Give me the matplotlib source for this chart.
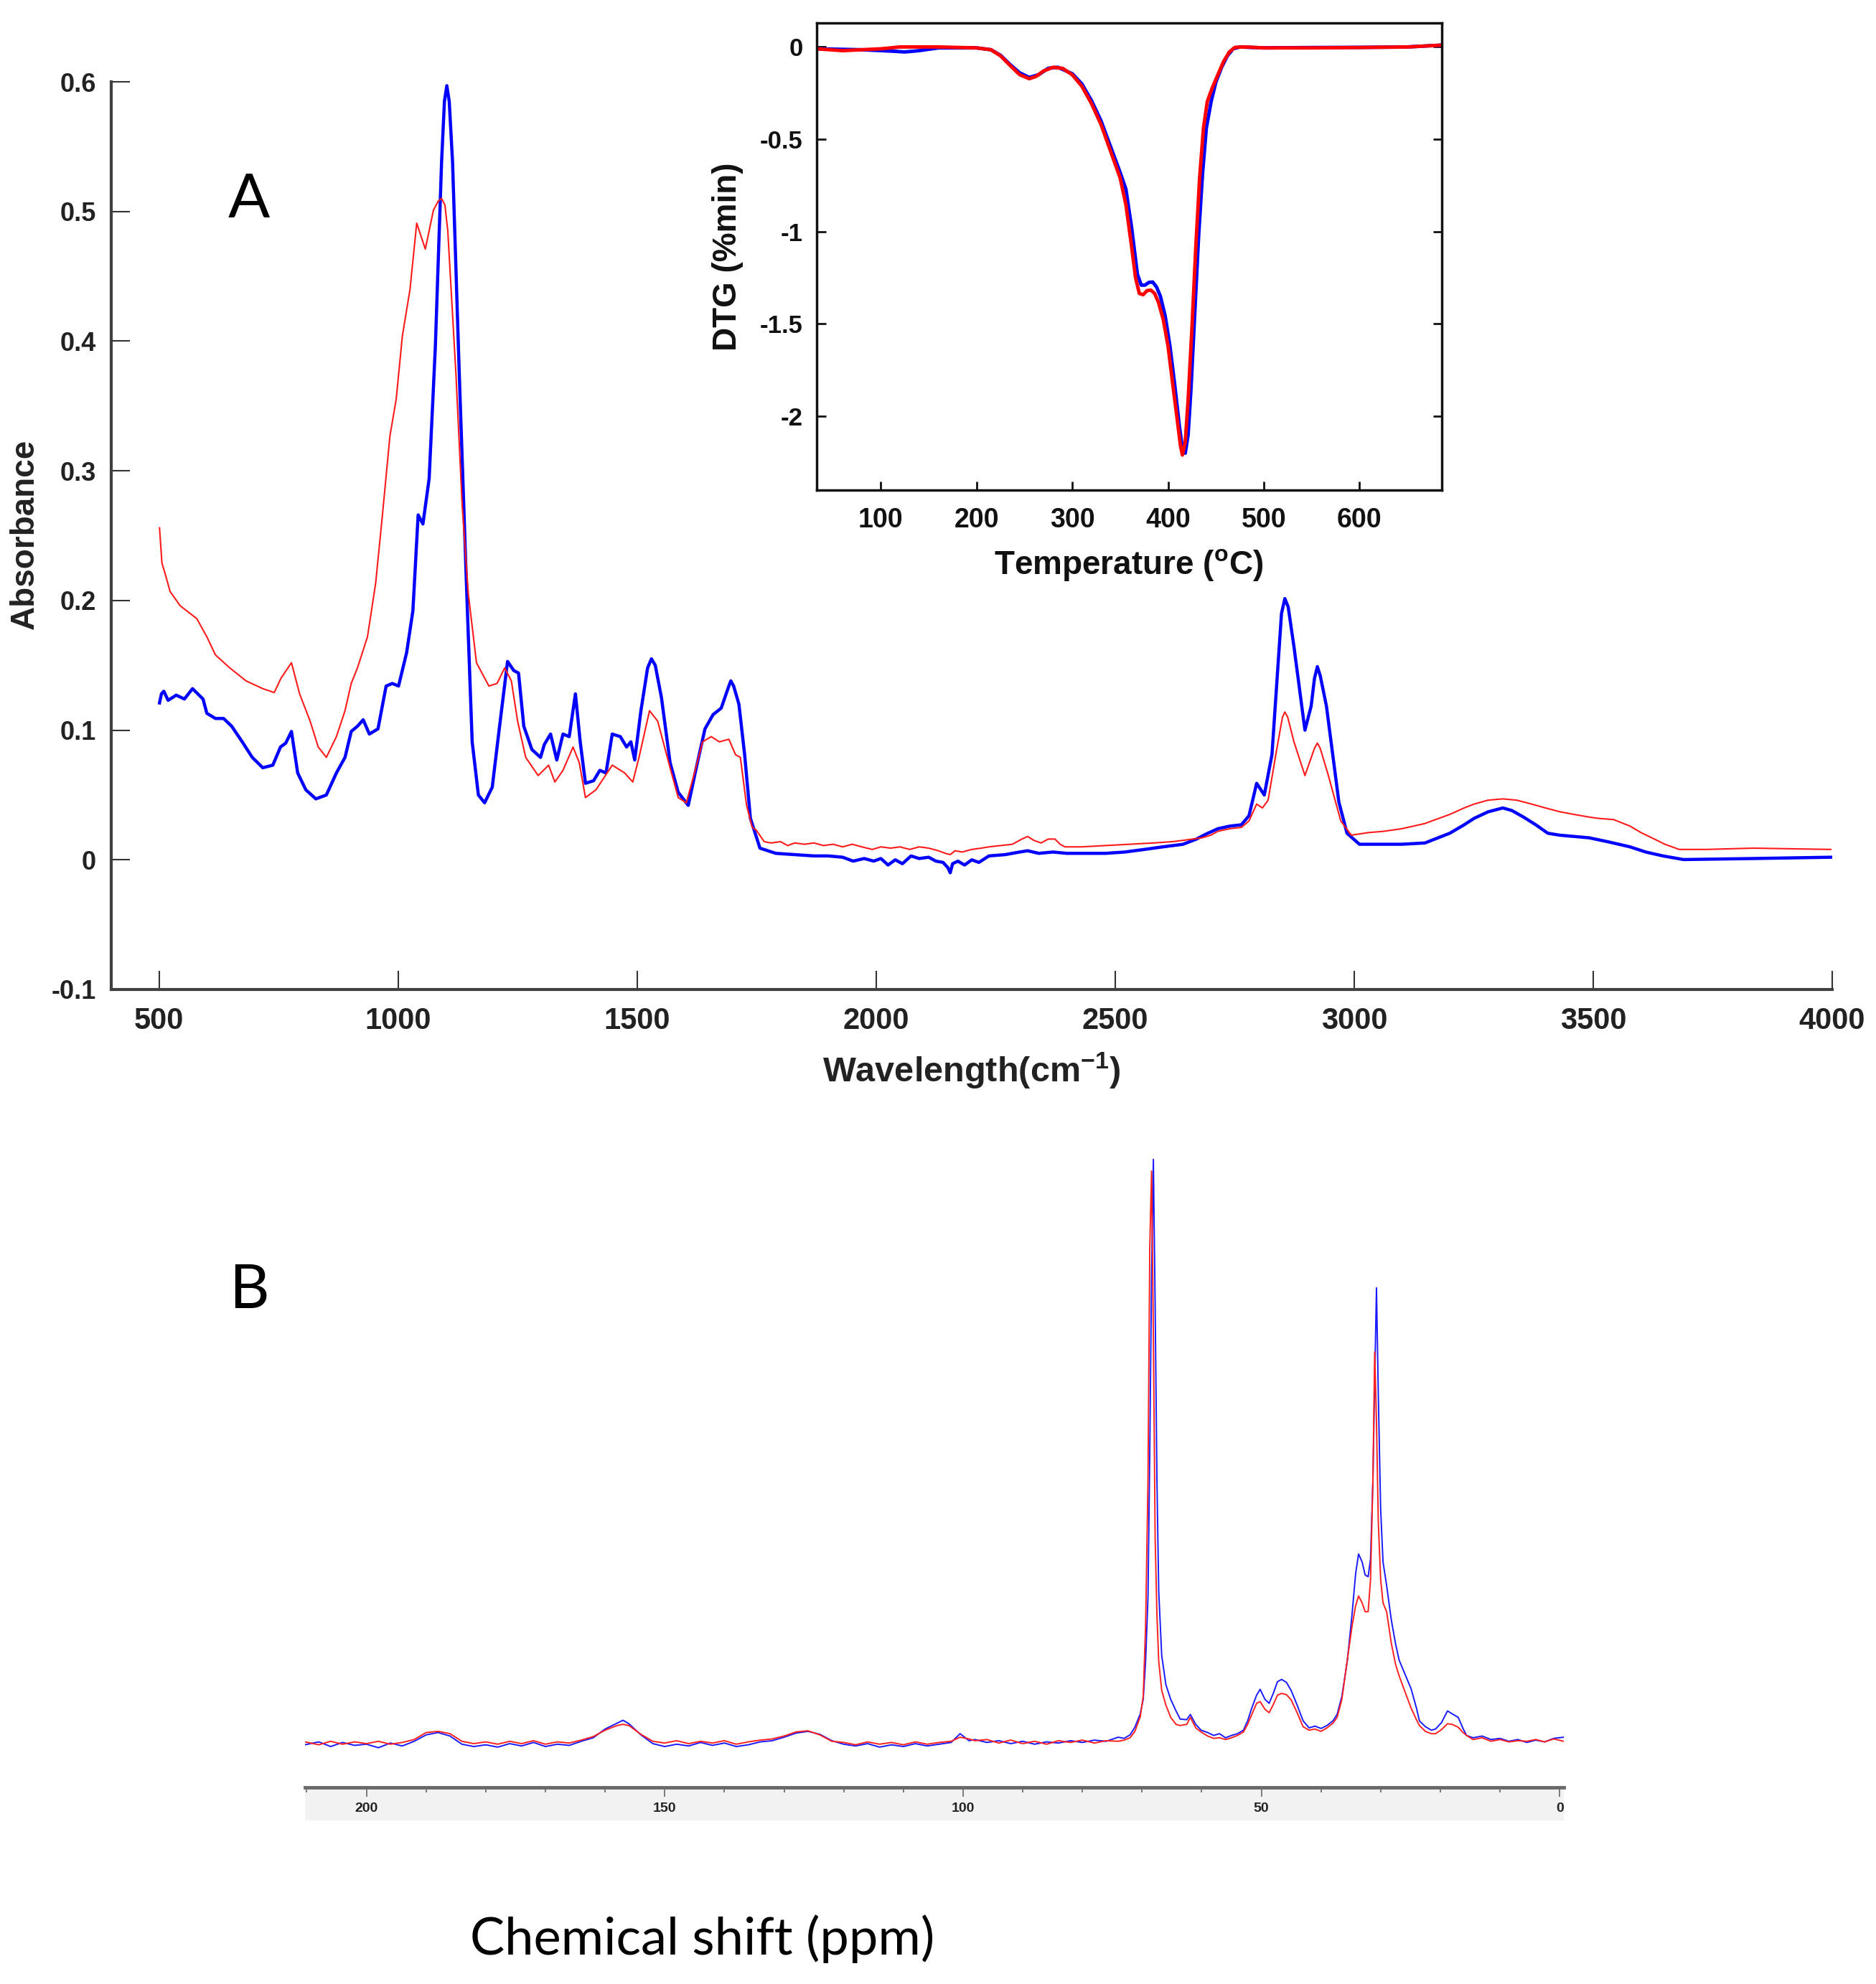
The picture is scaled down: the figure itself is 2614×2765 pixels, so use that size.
import matplotlib
matplotlib.use('Agg')
import matplotlib.pyplot as plt
from matplotlib.ticker import MultipleLocator

plt.rcParams['font.family'] = ['Liberation Sans', 'DejaVu Sans']
plt.rcParams['mathtext.fontset'] = 'custom'
plt.rcParams['mathtext.rm'] = 'Liberation Sans:bold'
plt.rcParams['mathtext.it'] = 'Liberation Sans:bold'
plt.rcParams['mathtext.default'] = 'rm'

# ---- FTIR (panel A) ----
ftir_wn_blue = [501, 505, 510, 519, 536, 553, 570, 592, 600, 618, 635, 652, 674, 695, 717, 738, 754, 765, 777,
                790, 807, 828, 850, 871, 889, 902, 915, 927, 940, 958, 975, 988, 1001, 1018, 1031, 1042, 1052,
                1065, 1078, 1091, 1097, 1102, 1107, 1114, 1128, 1143, 1155, 1168, 1181, 1197, 1211, 1229, 1242,
                1252, 1263, 1280, 1298, 1306, 1319, 1332, 1345, 1358, 1371, 1381, 1392, 1409, 1422, 1435, 1448,
                1465, 1478, 1487, 1495, 1508, 1522, 1530, 1538, 1551, 1569, 1586, 1607, 1625, 1642, 1659, 1676,
                1690, 1696, 1702, 1713, 1725, 1737, 1757, 1790, 1830, 1870, 1900, 1930, 1952, 1975, 1995, 2010,
                2025, 2040, 2055, 2073, 2090, 2110, 2125, 2140, 2150, 2155, 2160, 2171, 2185, 2200, 2215, 2236,
                2270, 2300, 2317, 2340, 2370, 2399, 2440, 2480, 2520, 2561, 2600, 2642, 2670, 2691, 2715, 2740,
                2764, 2780, 2796, 2812, 2828, 2848, 2855, 2862, 2874, 2897, 2910, 2917, 2923, 2929, 2942, 2968,
                2985, 3011, 3030, 3100, 3148, 3200, 3230, 3251, 3280, 3311, 3330, 3354, 3380, 3405, 3430, 3491,
                3530, 3577, 3610, 3646, 3689, 3835, 3997]
ftir_abs_blue = [0.121, 0.128, 0.130, 0.123, 0.127, 0.124, 0.132, 0.124, 0.113, 0.109, 0.109, 0.103, 0.091, 0.079,
                 0.071, 0.073, 0.087, 0.090, 0.099, 0.067, 0.054, 0.047, 0.050, 0.067, 0.079, 0.099, 0.103, 0.108,
                 0.097, 0.101, 0.134, 0.136, 0.134, 0.160, 0.192, 0.266, 0.259, 0.294, 0.396, 0.538, 0.585, 0.597,
                 0.585, 0.538, 0.375, 0.213, 0.091, 0.050, 0.044, 0.056, 0.099, 0.153, 0.146, 0.144, 0.103, 0.085,
                 0.079, 0.089, 0.097, 0.077, 0.097, 0.095, 0.128, 0.091, 0.059, 0.061, 0.069, 0.067, 0.097, 0.095,
                 0.087, 0.091, 0.077, 0.115, 0.148, 0.155, 0.150, 0.125, 0.075, 0.052, 0.042, 0.073, 0.101, 0.112,
                 0.117, 0.132, 0.138, 0.134, 0.120, 0.081, 0.032, 0.009, 0.005, 0.004, 0.003, 0.003, 0.002, -0.001,
                 0.001, -0.001, 0.001, -0.004, 0.000, -0.003, 0.003, 0.001, 0.002, -0.001, -0.002, -0.006, -0.010,
                 -0.003, -0.001, -0.004, 0.000, -0.002, 0.003, 0.004, 0.006, 0.007, 0.005, 0.006, 0.005, 0.005,
                 0.005, 0.006, 0.008, 0.010, 0.012, 0.016, 0.020, 0.024, 0.026, 0.027, 0.034, 0.059, 0.050, 0.081,
                 0.190, 0.2015, 0.195, 0.1645, 0.100, 0.1185, 0.140, 0.149, 0.142, 0.1185, 0.0445, 0.0205, 0.012,
                 0.012, 0.012, 0.013, 0.0205, 0.027, 0.032, 0.037, 0.040, 0.038, 0.033, 0.027, 0.0205, 0.019, 0.017,
                 0.014, 0.010, 0.006, 0.003, 0.0002, 0.001, 0.002]

ftir_wn_red = [501, 506, 514, 523, 544, 579, 600, 618, 648, 682, 717, 741, 755, 777, 794, 816, 833, 850, 871, 889,
               902, 915, 936, 953, 966, 983, 996, 1009, 1025, 1039, 1057, 1074, 1084, 1091, 1098, 1104, 1121, 1134,
               1147, 1164, 1190, 1207, 1223, 1237, 1250, 1267, 1293, 1315, 1328, 1345, 1366, 1379, 1392, 1414,
               1448, 1474, 1491, 1504, 1526, 1543, 1569, 1586, 1603, 1620, 1637, 1655, 1672, 1692, 1706, 1716,
               1729, 1741, 1749, 1766, 1780, 1800, 1815, 1830, 1850, 1870, 1890, 1910, 1930, 1950, 1970, 1992,
               2010, 2030, 2050, 2070, 2090, 2110, 2130, 2145, 2155, 2165, 2180, 2200, 2220, 2236, 2260, 2285,
               2305, 2317, 2330, 2345, 2360, 2374, 2385, 2395, 2430, 2480, 2530, 2580, 2620, 2642, 2682, 2700,
               2715, 2740, 2764, 2780, 2796, 2808, 2820, 2836, 2850, 2855, 2861, 2874, 2897, 2917, 2923, 2929,
               2946, 2972, 2994, 3030, 3062, 3100, 3148, 3170, 3200, 3230, 3251, 3280, 3311, 3340, 3371, 3400,
               3431, 3460, 3491, 3510, 3543, 3577, 3600, 3628, 3650, 3680, 3736, 3835, 3997]
ftir_abs_red = [0.256, 0.229, 0.219, 0.207, 0.196, 0.186, 0.172, 0.158, 0.148, 0.138, 0.132, 0.129, 0.140, 0.152,
                0.128, 0.107, 0.087, 0.079, 0.095, 0.115, 0.136, 0.148, 0.172, 0.213, 0.261, 0.327, 0.355, 0.404,
                0.440, 0.491, 0.471, 0.501, 0.508, 0.510, 0.505, 0.485, 0.375, 0.274, 0.205, 0.152, 0.134, 0.136,
                0.148, 0.138, 0.107, 0.079, 0.065, 0.073, 0.060, 0.069, 0.087, 0.075, 0.048, 0.054, 0.073, 0.067,
                0.060, 0.079, 0.115, 0.107, 0.071, 0.048, 0.044, 0.067, 0.091, 0.095, 0.091, 0.093, 0.081, 0.079,
                0.042, 0.025, 0.023, 0.014, 0.013, 0.014, 0.011, 0.013, 0.012, 0.013, 0.011, 0.012, 0.010, 0.012,
                0.010, 0.008, 0.010, 0.009, 0.010, 0.008, 0.010, 0.009, 0.007, 0.005, 0.004, 0.007, 0.006, 0.008,
                0.009, 0.010, 0.011, 0.012, 0.016, 0.018, 0.015, 0.013, 0.016, 0.016, 0.012, 0.010, 0.010, 0.011,
                0.012, 0.013, 0.014, 0.015, 0.017, 0.019, 0.022, 0.024, 0.025, 0.030, 0.043, 0.040, 0.046, 0.081,
                0.110, 0.114, 0.110, 0.091, 0.065, 0.086, 0.090, 0.086, 0.065, 0.030, 0.019, 0.021, 0.022, 0.024,
                0.028, 0.031, 0.035, 0.040, 0.043, 0.046, 0.047, 0.046, 0.043, 0.040, 0.037, 0.035, 0.033, 0.032,
                0.031, 0.026, 0.021, 0.016, 0.012, 0.008, 0.008, 0.009, 0.008]

ftir_xticks = [500, 1000, 1500, 2000, 2500, 3000, 3500, 4000]
ftir_yticks = [-0.1, 0, 0.1, 0.2, 0.3, 0.4, 0.5, 0.6]
ftir_ylabels = ['-0.1', '0', '0.1', '0.2', '0.3', '0.4', '0.5', '0.6']

# ---- DTG (inset) ----
dtg_t_blue = [33, 80, 113, 125, 140, 160, 200, 215, 225, 235, 245, 255, 265, 275, 285, 300, 310, 320, 330, 340,
              350, 356, 362, 368, 372, 376, 380, 384, 388, 392, 397, 402, 407, 412, 415, 418, 421, 424, 428, 432,
              436, 440, 445, 450, 456, 462, 468, 475, 500, 550, 600, 650, 686]
dtg_v_blue = [-0.01, -0.015, -0.023, -0.027, -0.02, -0.005, -0.005, -0.015, -0.045, -0.095, -0.14, -0.165, -0.15,
              -0.115, -0.11, -0.145, -0.2, -0.29, -0.40, -0.54, -0.68, -0.77, -0.98, -1.23, -1.29, -1.29, -1.275,
              -1.273, -1.30, -1.35, -1.456, -1.62, -1.83, -2.06, -2.17, -2.20, -2.10, -1.85, -1.435, -1.02, -0.69,
              -0.44, -0.296, -0.19, -0.11, -0.048, -0.01, 0.0, -0.005, -0.003, -0.002, 0.0, 0.01]

dtg_t_red = [33, 60, 100, 120, 160, 200, 215, 225, 235, 245, 255, 262, 270, 280, 290, 300, 310, 320, 330, 340,
             350, 356, 362, 366, 370, 374, 378, 382, 386, 390, 395, 400, 405, 410, 413, 415, 418, 421, 425, 429,
             433, 437, 441, 446, 452, 458, 464, 470, 480, 500, 550, 600, 650, 686]
dtg_v_red = [-0.01, -0.02, -0.01, 0.0, 0.0, -0.005, -0.015, -0.048, -0.10, -0.15, -0.172, -0.16, -0.13, -0.11,
             -0.116, -0.151, -0.213, -0.306, -0.42, -0.565, -0.71, -0.855, -1.083, -1.248, -1.335, -1.342, -1.32,
             -1.317, -1.335, -1.383, -1.476, -1.62, -1.83, -2.035, -2.16, -2.21, -2.14, -1.91, -1.52, -1.083,
             -0.71, -0.44, -0.296, -0.224, -0.151, -0.079, -0.027, -0.002, 0.0, -0.005, -0.005, -0.003, 0.0, 0.01]

dtg_xticks = [100, 200, 300, 400, 500, 600]
dtg_yticks = [-2, -1.5, -1, -0.5, 0]
dtg_ylabels = ['-2', '-1.5', '-1', '-0.5', '0']

# ---- 13C NMR (panel B) ----
nmr_ppm = [210.3, 208, 206, 204, 202, 200, 198, 196, 194, 192, 190, 188, 186, 184, 182, 180, 178, 176, 174, 172,
           170, 168, 166, 164, 162, 160, 158, 157, 156, 154, 152, 150, 148, 146, 144, 142, 140, 138, 136, 134,
           132, 130, 128, 126, 124, 122, 120, 118, 116, 114, 112, 110, 108, 106, 104, 102, 100.5, 100, 99, 98,
           96, 94, 92, 90, 88, 86, 84, 82, 80, 78, 76, 74, 73, 72, 71.2, 70.3, 69.8, 69.4, 69.0, 68.7, 68.4,
           68.1, 67.8, 67.5, 67.2, 66.7, 66.0, 65.2, 64.3, 63.6, 62.5, 61.9, 61.0, 60.1, 59, 58, 57, 56, 55, 54,
           53, 52.3, 51.6, 50.8, 50.2, 49.4, 48.7, 48, 47.3, 46.6, 45.8, 45, 44, 43, 42, 41, 40, 39, 38, 37.3,
           36.5, 35.6, 34.8, 34.2, 33.7, 33.1, 32.6, 32.1, 31.7, 31.3, 31.0, 30.7, 30.4, 30.0, 29.6, 29.0, 28.2,
           27.5, 26.9, 26.0, 24.9, 24.0, 23.5, 22.5, 21.5, 20.8, 19.8, 18.8, 18.0, 17.0, 16.2, 15.6, 14.5, 13,
           11.5, 10, 8.5, 7, 5.5, 4, 2.5, 1, -0.7]
nmr_blue = [-0.3, 0.2, -0.6, 0.1, -0.4, -0.2, -0.8, 0.0, -0.5, 0.3, 1.4, 1.8, 1.2, -0.2, -0.6, -0.3, -0.7, -0.1,
            -0.5, 0.1, -0.6, -0.2, -0.4, 0.3, 0.9, 2.4, 3.4, 3.9, 3.3, 1.4, -0.1, -0.6, -0.2, -0.5, 0.1, -0.4,
            0.0, -0.6, -0.3, 0.2, 0.4, 1.0, 1.7, 2.0, 1.5, 0.4, -0.2, -0.5, -0.1, -0.7, -0.3, -0.6, -0.1, -0.5,
            -0.2, 0.1, 1.6, 1.2, 0.4, 0.6, 0.1, 0.4, -0.1, 0.3, -0.2, 0.2, 0.0, 0.4, 0.1, 0.5, 0.3, 1.0, 0.8,
            1.4, 2.7, 5.0, 7.5, 14, 25, 50, 80, 100, 75, 45, 26, 15, 10, 7.5, 5.5, 4.1, 4.0, 4.9, 3.2, 2.2, 1.8,
            1.3, 1.6, 0.9, 1.3, 1.6, 2.2, 3.8, 6.0, 8.2, 9.2, 7.5, 6.8, 8.5, 10.5, 10.9, 10.4, 9.0, 6.5, 3.8,
            2.6, 2.9, 2.5, 3.0, 3.8, 4.9, 8.0, 14.0, 22.0, 29.0, 32.4, 31.0, 28.8, 28.5, 31.5, 45, 62, 78, 60,
            40, 31, 27, 21, 17, 14.2, 12, 9.3, 6, 3.8, 2.8, 2.2, 2.4, 3.5, 5.5, 5.0, 4.4, 2.5, 1.3, 0.9, 1.2,
            0.6, 0.8, 0.3, 0.6, 0.1, 0.5, 0.2, 0.8, 1.0]
nmr_red = [0.2, -0.3, 0.3, -0.2, 0.2, -0.1, 0.3, -0.2, 0.1, 0.6, 1.8, 2.0, 1.6, 0.3, -0.1, 0.2, -0.2, 0.3, -0.1,
           0.4, -0.2, 0.2, 0.0, 0.5, 1.1, 2.2, 3.0, 3.2, 3.0, 1.5, 0.3, 0.0, 0.4, -0.1, 0.3, 0.0, 0.4, -0.2, 0.2,
           0.5, 0.7, 1.2, 1.9, 2.1, 1.4, 0.3, 0.1, -0.3, 0.2, -0.2, 0.1, -0.3, 0.2, -0.2, 0.1, 0.3, 1.0, 0.9, 0.7,
           0.4, 0.6, 0.0, 0.5, -0.1, 0.3, -0.2, 0.4, 0.1, 0.5, 0.0, 0.4, 0.3, 0.5, 0.9, 2.0, 4.5, 8.0, 20, 45,
           85, 98, 70, 35, 22, 14, 9, 6.5, 4.4, 3.2, 3.0, 3.2, 4.4, 2.6, 1.9, 1.2, 0.8, 0.9, 0.6, 0.9, 1.3, 1.9,
           3.2, 4.9, 6.8, 7.1, 5.8, 5.2, 6.6, 8.2, 8.5, 8.3, 7.4, 5.2, 2.8, 2.2, 2.4, 2.0, 2.6, 3.4, 4.4, 7.5,
           14.2, 20.0, 23.5, 25.2, 24.0, 22.5, 22.5, 28.0, 45, 67, 55, 38, 28, 24, 22.5, 17, 13.5, 11.5, 9, 6.0,
           4.0, 3.0, 2.0, 1.6, 1.6, 2.3, 3.3, 3.2, 2.7, 1.8, 1.3, 0.6, 0.9, 0.3, 0.6, 0.2, 0.4, 0.3, 0.6, 0.2,
           0.7, 0.3]

W, H = 2614, 2765
fig = plt.figure(figsize=(W / 100, H / 100), dpi=100)

# panel A main axes
axA = fig.add_axes([155 / W, 1 - 1379 / H, (2553 - 155) / W, (1379 - 114) / H])
axA.plot(ftir_wn_blue, ftir_abs_blue, color='#0000ff', lw=3.2)
axA.plot(ftir_wn_red, ftir_abs_red, color='#ff1a1a', lw=1.5)
axA.set_xlim(400, 4000)
axA.set_ylim(-0.1, 0.6)
for s in ['top', 'right']:
    axA.spines[s].set_visible(False)
for s in ['left', 'bottom']:
    axA.spines[s].set_linewidth(3)
    axA.spines[s].set_color('#404040')
axA.set_xticks(ftir_xticks)
axA.set_yticks(ftir_yticks)
axA.set_yticklabels(ftir_ylabels)
axA.tick_params(direction='in', length=19, width=1.5, color='#333333')
axA.tick_params(axis='x', labelsize=30, pad=17)
axA.tick_params(axis='y', labelsize=26, pad=15)
for lab in axA.get_xticklabels() + axA.get_yticklabels():
    lab.set_fontweight('bold')
    lab.set_color('#222222')
axA.set_xlabel('Wavelength(cm$^{-1}$)', fontsize=35, fontweight='bold', color='#222222')
axA.xaxis.label.set_va('center')
axA.xaxis.set_label_coords(0.5, -0.090)
axA.set_ylabel('Absorbance', fontsize=33, fontweight='bold', color='#222222')
axA.yaxis.label.set_va('center')
axA.yaxis.set_label_coords(-0.050, 0.502)

# inset DTG
axI = fig.add_axes([1138 / W, 1 - 683 / H, 871 / W, 651 / H])
axI.plot(dtg_t_blue, dtg_v_blue, color='#0000ff', lw=3.5)
axI.plot(dtg_t_red, dtg_v_red, color='#ff0000', lw=3.5)
axI.set_xlim(33, 686)
axI.set_ylim(-2.4, 0.13)
for s in axI.spines.values():
    s.set_linewidth(2.5)
    s.set_color('#111111')
axI.set_xticks(dtg_xticks)
axI.set_yticks(dtg_yticks)
axI.set_yticklabels(dtg_ylabels)
axI.tick_params(direction='in', length=9, width=2, right=True, color='#111111')
axI.tick_params(axis='x', labelsize=27, pad=17)
axI.tick_params(axis='y', labelsize=25, pad=14)
for lab in axI.get_xticklabels() + axI.get_yticklabels():
    lab.set_fontweight('bold')
    lab.set_color('#111111')
axI.set_xlabel('Temperature ($^{o}$C)', fontsize=33, fontweight='bold', color='#111111')
axI.xaxis.label.set_va('center')
axI.xaxis.set_label_coords(0.4995, -0.160)
axI.set_ylabel('DTG (%min)', fontsize=33, fontweight='bold', color='#111111')
axI.yaxis.label.set_va('center')
axI.yaxis.set_label_coords(-0.142, 0.499)

# panel B NMR spectrum
axB = fig.add_axes([425 / W, 1 - 2491 / H, 1754 / W, 911 / H])
axB.plot(nmr_ppm, nmr_blue, color='#1a1aff', lw=1.4)
axB.plot(nmr_ppm, nmr_red, color='#ff2020', lw=1.4)
axB.set_xlim(210.3, -0.7)
axB.set_ylim(-7.6, 104.4)
axB.axis('off')

# NMR scale band
axS = fig.add_axes([425 / W, 1 - 2537 / H, 1754 / W, 46 / H])
axS.set_facecolor('#f2f2f2')
axS.set_xlim(210.3, -0.7)
axS.set_yticks([])
for s in ['left', 'right', 'bottom']:
    axS.spines[s].set_visible(False)
axS.spines['top'].set_linewidth(3.5)
axS.spines['top'].set_color('#6a6a6a')
axS.xaxis.set_major_locator(MultipleLocator(50))
axS.xaxis.set_minor_locator(MultipleLocator(10))
axS.tick_params(axis='x', which='both', top=True, bottom=False, labeltop=False, labelbottom=True,
                direction='in', color='#666666', width=1.2)
axS.tick_params(axis='x', which='major', length=9, labelsize=14, pad=-18)
axS.tick_params(axis='x', which='minor', length=5)
for lab in axS.get_xticklabels():
    lab.set_fontweight('bold')
    lab.set_color('#222222')

fig.text(347 / W, 1 - 279 / H, 'A', fontsize=62, family=['Lato', 'DejaVu Sans'], ha='center', va='center')
fig.text(347 / W, 1 - 1799 / H, 'B', fontsize=62, family=['Lato', 'DejaVu Sans'], ha='center', va='center')
fig.text(979 / W, 1 - 2702 / H, 'Chemical shift (ppm)', fontsize=52, family=['Lato', 'DejaVu Sans'],
         ha='center', va='center')

fig.savefig('out.png', dpi=100)
